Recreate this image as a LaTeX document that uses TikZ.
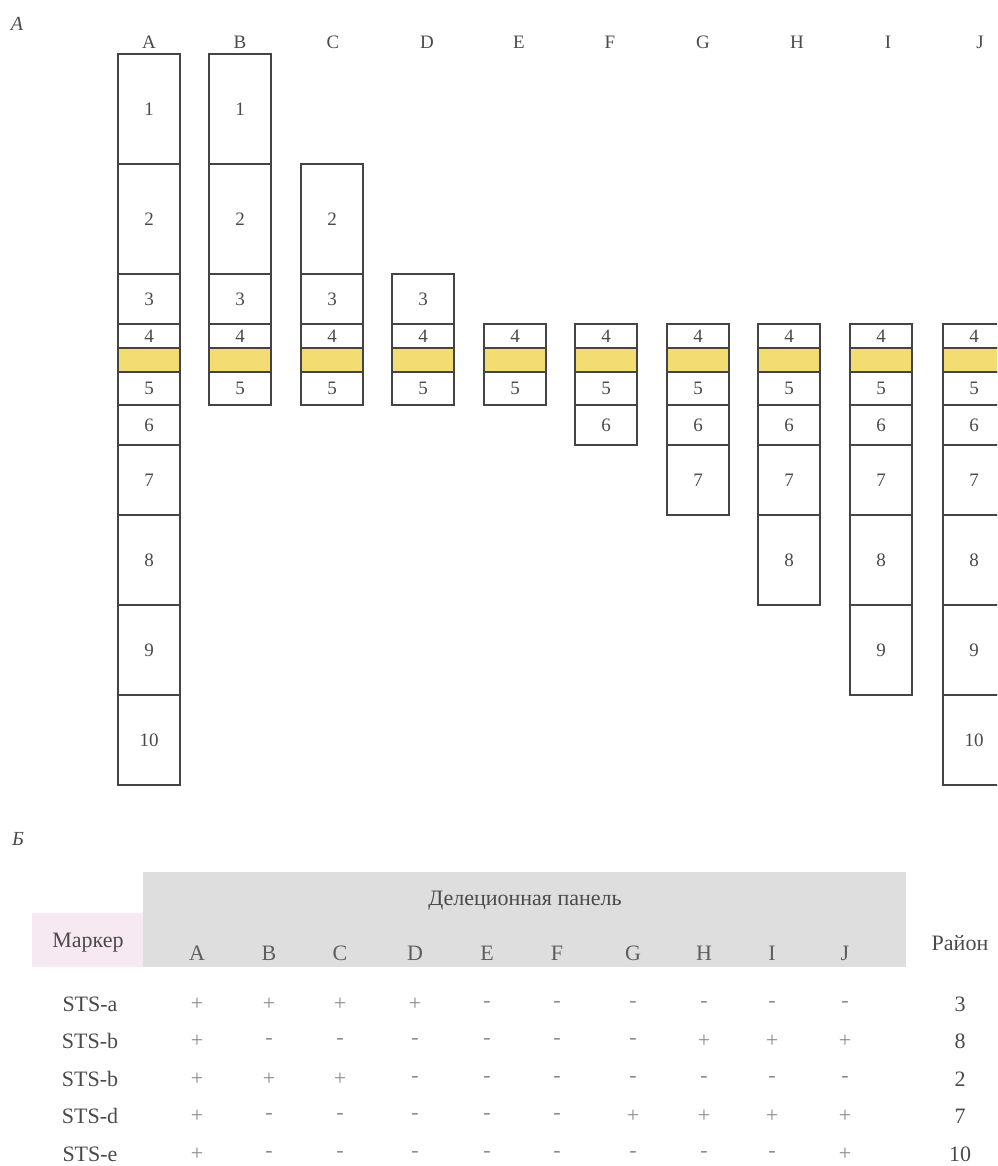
\documentclass[tikz,border=0pt]{standalone}
\usepackage{fontspec}
\setmainfont{Liberation Serif}
\definecolor{txt}{HTML}{4A4A4A}
\definecolor{hdrtxt}{HTML}{5E5E5E}
\definecolor{lite}{HTML}{8C8C8C}
\definecolor{boxline}{HTML}{444444}
\definecolor{band}{HTML}{F3DC72}
\definecolor{panelgray}{HTML}{DEDEDE}
\definecolor{markpink}{HTML}{F6E9F1}
\tikzset{
  seg/.style={draw=boxline, line width=1.4pt, fill=white, minimum width=62pt, inner sep=0pt, text=txt, font=\fontsize{19}{19}\selectfont},
  bandseg/.style={seg, fill=band},
  collabel/.style={text=txt, font=\fontsize{19}{19}\selectfont, inner sep=0pt},
  panel/.style={text=txt, font=\fontsize{20}{20}\selectfont\itshape, inner sep=0pt},
  cell/.style={text=txt, font=\fontsize{22}{22}\selectfont, inner sep=0pt},
  hcell/.style={text=hdrtxt, font=\fontsize{22}{22}\selectfont, inner sep=0pt},
  val/.style={text=lite, font=\fontsize{22}{22}\selectfont, inner sep=0pt},
}
\begin{document}
\begin{tikzpicture}[x=1pt,y=-1pt]
\useasboundingbox (0,0) rectangle (997,1166);
\clip (0,0) rectangle (997,1166);
% panel labels
\node[panel] (pA) at (17,24) {А};
\node[panel] (pB) at (18,839) {Б};
% chromosome columns
\def\segs{1/54/164/1, 2/164/274/2, 3/274/324/3, 4/324/348/4, 5/348/372/{}, 6/372/405/5, 7/405/445/6, 8/445/515/7, 9/515/605/8, 10/605/695/9, 11/695/785/10}
\foreach \c/\x/\lx/\a/\b in {A/149/149/1/11, B/240/240/1/6, C/332/333/2/6, D/423/427/3/6, E/515/519/4/6, F/606/610/4/7, G/698/703/4/8, H/789/797/4/9, I/881/888/4/10, J/974/980/4/11}{
  \node[collabel] (lab-\c) at (\lx,42) {\c};
  \foreach \i/\t/\bt/\lbl in \segs {
    \ifnum\i<\a\relax\else\ifnum\i>\b\relax\else
      \ifnum\i=5\relax
        \node[bandseg, minimum height={\bt-\t}] (\c-\i) at (\x,{(\t+\bt)/2}) {};
      \else
        \node[seg, minimum height={\bt-\t}] (\c-\i) at (\x,{(\t+\bt)/2}) {\lbl};
      \fi
    \fi\fi
  }
}
% table backgrounds
\path[fill=markpink] (32,913) rectangle (143,967);
\path[fill=panelgray] (143,872) rectangle (906,967);
\node[cell] (hdr) at (525,901) {Делеционная панель};
\node[cell] (mk) at (88,943) {Маркер};
\node[cell] (rg) at (960,943) {Район};
\foreach \c/\x in {A/197, B/269, C/340, D/415, E/487, F/557, G/633, H/704, I/772, J/845}{
  \node[hcell] (th-\c) at (\x,953) {\c};
}
% rows
\foreach \r/\y/\m/\vals/\reg in {
  1/1004/STS-a/{+,+,+,+,-,-,-,-,-,-}/3,
  2/1041/STS-b/{+,-,-,-,-,-,-,+,+,+}/8,
  3/1079/STS-b/{+,+,+,-,-,-,-,-,-,-}/2,
  4/1116/STS-d/{+,-,-,-,-,-,+,+,+,+}/7,
  5/1154/STS-e/{+,-,-,-,-,-,-,-,-,+}/10}{
  \node[cell] (m-\r) at (90,\y) {\m};
  \node[cell] (reg-\r) at (960,\y) {\reg};
  \foreach \v [count=\k] in \vals {
    \pgfmathsetmacro{\xx}{{197,269,340,415,487,557,633,704,772,845}[\k-1]}
    \node[val] (v-\r-\k) at (\xx,\y) {\v};
  }
}
\end{tikzpicture}
\end{document}
